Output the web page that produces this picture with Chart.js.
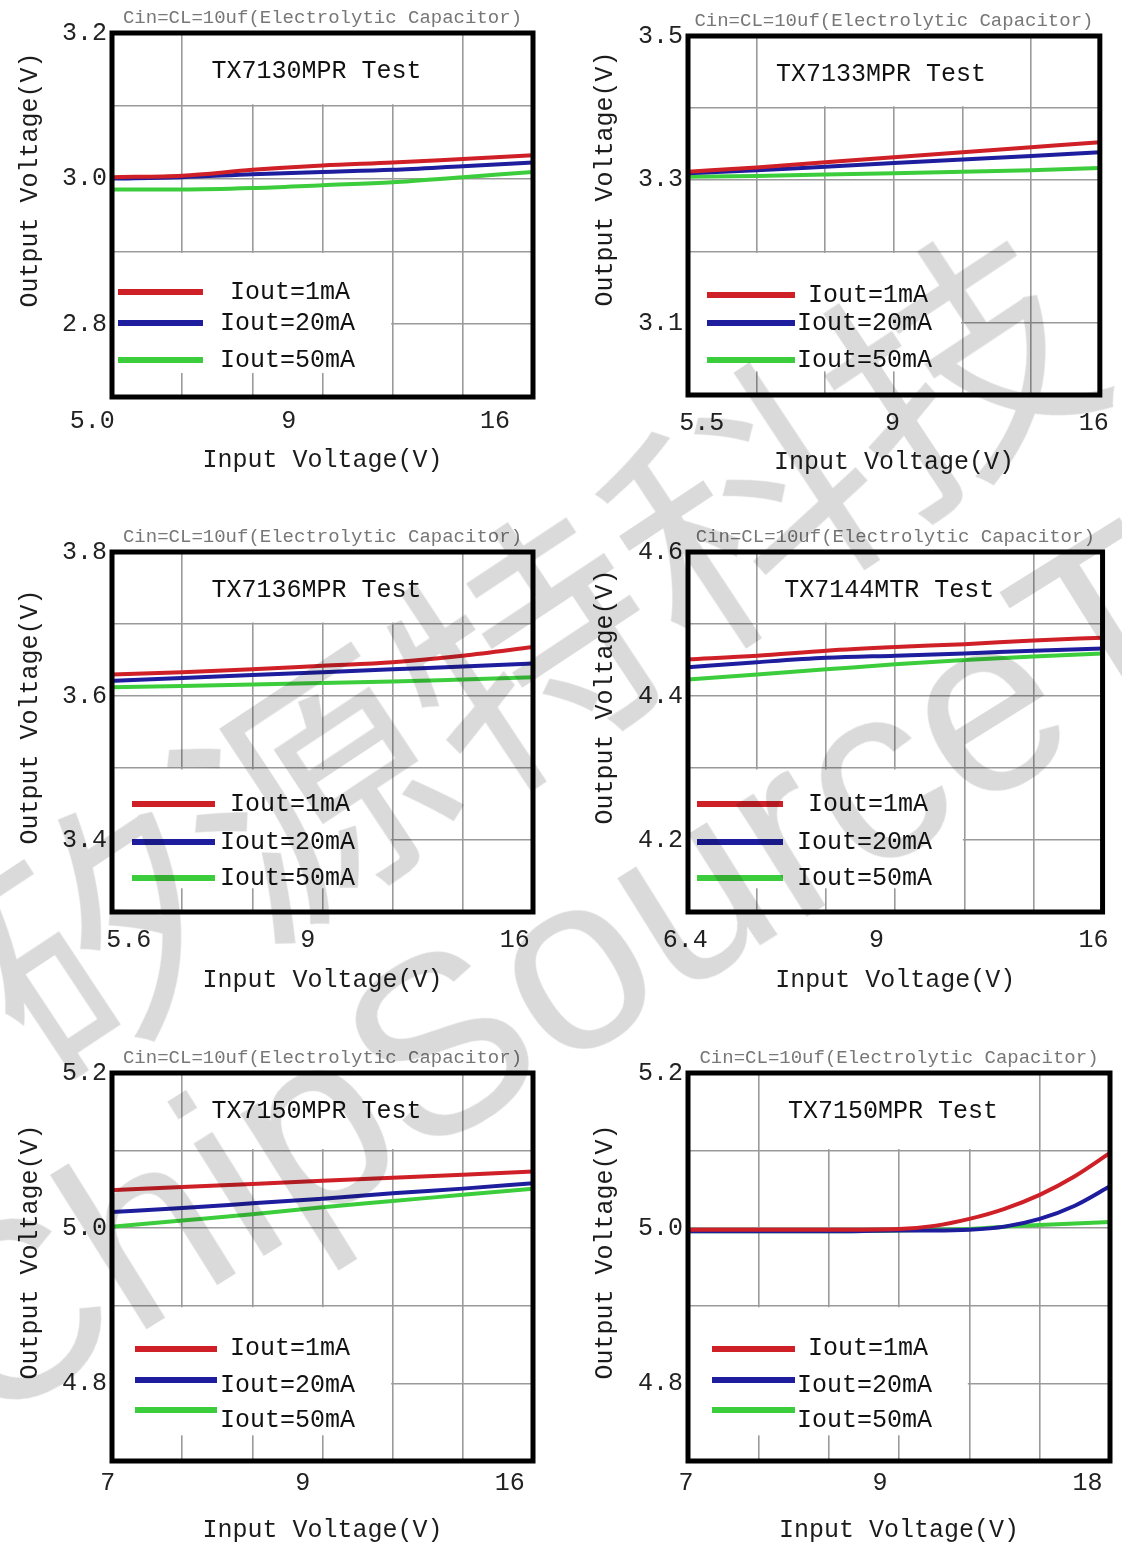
<!DOCTYPE html>
<html>
<head>
<meta charset="utf-8">
<title>TX71xx line regulation</title>
<script src="https://cdn.jsdelivr.net/npm/chart.js@4.4.0/dist/chart.umd.min.js"></script>
<style>
  html, body { margin: 0; padding: 0; background: #fff; }
  #page { position: relative; width: 1122px; height: 1546px; overflow: hidden; background: #fff; }
  .cell { position: absolute; }
  .cell canvas { display: block; }
  .wm { position: absolute; white-space: nowrap; line-height: 1; color: #dadada;
        mix-blend-mode: multiply; pointer-events: none; transform-origin: center center; }
</style>
</head>
<body>
<div id="page">
  <div class="cell" style="left:0;top:0"><canvas id="c1" width="561" height="490"></canvas></div>
  <div class="cell" style="left:561px;top:0"><canvas id="c2" width="561" height="490"></canvas></div>
  <div class="cell" style="left:0;top:510px"><canvas id="c3" width="561" height="510"></canvas></div>
  <div class="cell" style="left:561px;top:510px"><canvas id="c4" width="561" height="510"></canvas></div>
  <div class="cell" style="left:0;top:1030px"><canvas id="c5" width="561" height="516"></canvas></div>
  <div class="cell" style="left:561px;top:1030px"><canvas id="c6" width="561" height="516"></canvas></div>

  <div class="wm" style="font-family:'Noto Sans CJK SC';font-size:258px;left:520px;top:640px;transform:translate(-50%,-50%) rotate(-33.5deg)">矽源特科技</div>
  <div class="wm" style="font-family:'Liberation Sans';font-size:250px;left:652px;top:912px;transform:translate(-50%,-50%) rotate(-32deg)">ChipSourceTek</div>
</div>

<script>
// x positions are grid columns across the frame (the sheet's axis is not to scale)
const xPos = [0, 1, 2, 3, 4, 5, 6];
const xPosCurve = [0, 1, 2, 3, 3.5, 4, 4.5, 5, 5.5, 6];

const seriesLabels = ['Iout=1mA', 'Iout=20mA', 'Iout=50mA'];
const seriesColors = ['#cf1f27', '#1d1d9e', '#3ccd3c'];

// TX7130MPR
const tx7130_1mA  = [3.002, 3.004, 3.012, 3.018, 3.022, 3.027, 3.032];
const tx7130_20mA = [3.000, 3.002, 3.006, 3.009, 3.012, 3.017, 3.022];
const tx7130_50mA = [2.985, 2.985, 2.987, 2.991, 2.995, 3.002, 3.009];

// TX7133MPR
const tx7133_1mA  = [3.311, 3.317, 3.324, 3.331, 3.338, 3.345, 3.352];
const tx7133_20mA = [3.309, 3.313, 3.318, 3.323, 3.328, 3.333, 3.338];
const tx7133_50mA = [3.304, 3.305, 3.307, 3.309, 3.311, 3.313, 3.316];

// TX7136MPR
const tx7136_1mA  = [3.630, 3.633, 3.637, 3.642, 3.647, 3.656, 3.668];
const tx7136_20mA = [3.621, 3.625, 3.629, 3.633, 3.637, 3.641, 3.645];
const tx7136_50mA = [3.612, 3.614, 3.616, 3.618, 3.620, 3.623, 3.626];

// TX7144MTR
const tx7144_1mA  = [4.451, 4.456, 4.463, 4.468, 4.472, 4.477, 4.481];
const tx7144_20mA = [4.440, 4.447, 4.453, 4.456, 4.459, 4.463, 4.466];
const tx7144_50mA = [4.423, 4.430, 4.437, 4.444, 4.450, 4.455, 4.459];

// TX7150MPR (to 16V)
const tx7150_1mA  = [5.049, 5.053, 5.057, 5.061, 5.065, 5.069, 5.073];
const tx7150_20mA = [5.021, 5.026, 5.032, 5.038, 5.045, 5.051, 5.058];
const tx7150_50mA = [5.002, 5.010, 5.018, 5.027, 5.035, 5.043, 5.051];

// TX7150MPR (to 18V)
const tx7150b_1mA  = [4.998, 4.998, 4.998, 4.999, 5.003, 5.012, 5.025, 5.043, 5.067, 5.097];
const tx7150b_20mA = [4.996, 4.996, 4.996, 4.997, 4.997, 4.998, 5.002, 5.012, 5.029, 5.054];
const tx7150b_50mA = [4.996, 4.996, 4.996, 4.997, 4.998, 4.999, 5.002, 5.004, 5.006, 5.008];

// tick labels (position in grid columns, text)
const xTicks1 = [-0.28, 2.52, 5.46], xLabels1 = ['5.0', '9', '16'];
const xTicks2 = [0.2, 2.98, 5.91],   xLabels2 = ['5.5', '9', '16'];
const xTicks3 = [0.24, 2.79, 5.74],  xLabels3 = ['5.6', '9', '16'];
const xTicks4 = [-0.04, 2.73, 5.87], xLabels4 = ['6.4', '9', '16'];
const xTicks5 = [-0.06, 2.72, 5.67], xLabels5 = ['7', '9', '16'];
const xTicks6 = [-0.03, 2.73, 5.68], xLabels6 = ['7', '9', '18'];

const noteText = 'Cin=CL=10uf(Electrolytic Capacitor)';
const mono = "'Liberation Mono', 'DejaVu Sans Mono', monospace";
const gridColor = '#9a9a9a';

const panels = [
  { id: 'c1', title: 'TX7130MPR Test', yMax: 3.2, xs: xPos, series: [tx7130_1mA, tx7130_20mA, tx7130_50mA],
    xTicks: xTicks1, xLabels: xLabels1,
    padTop: 33, padRight: 28, yAxisW: 112, xAxisH: 93, xTickPad: 9, xTitlePad: 15, yTitle: [30, 180], titleDx: -6,
    leg: { line: [6, 91], lineY: [259, 290, 327], textX: [118, 108, 108], textY: [259, 290, 327] } },
  { id: 'c2', title: 'TX7133MPR Test', yMax: 3.5, xs: xPos, series: [tx7133_1mA, tx7133_20mA, tx7133_50mA],
    xTicks: xTicks2, xLabels: xLabels2,
    padTop: 36, padRight: 12, yAxisW: 127, xAxisH: 95, xTickPad: 13, xTitlePad: 13, yTitle: [44, 179], titleDx: -13,
    leg: { line: [19, 107], lineY: [259, 287, 324], textX: [120, 109, 109], textY: [259, 287, 324] } },
  { id: 'c3', title: 'TX7136MPR Test', yMax: 3.8, xs: xPos, series: [tx7136_1mA, tx7136_20mA, tx7136_50mA],
    xTicks: xTicks3, xLabels: xLabels3,
    padTop: 42, padRight: 28, yAxisW: 112, xAxisH: 108, xTickPad: 13, xTitlePad: 25, yTitle: [30, 207], titleDx: -6,
    leg: { line: [20, 103], lineY: [252, 290, 326], textX: [118, 108, 108], textY: [252, 290, 326] } },
  { id: 'c4', title: 'TX7144MTR Test', yMax: 4.6, xs: xPos, series: [tx7144_1mA, tx7144_20mA, tx7144_50mA],
    xTicks: xTicks4, xLabels: xLabels4,
    padTop: 42, padRight: 12, yAxisW: 127, xAxisH: 108, xTickPad: 13, xTitlePad: 25, yTitle: [44, 187], titleDx: -6,
    leg: { line: [9, 95], lineY: [252, 290, 326], textX: [120, 109, 109], textY: [252, 290, 326] } },
  { id: 'c5', title: 'TX7150MPR Test', yMax: 5.2, xs: xPos, series: [tx7150_1mA, tx7150_20mA, tx7150_50mA],
    xTicks: xTicks5, xLabels: xLabels5,
    padTop: 43, padRight: 28, yAxisW: 112, xAxisH: 85, xTickPad: 7, xTitlePad: 1, yTitle: [30, 222], titleDx: -6,
    leg: { line: [23, 105], lineY: [276, 307, 337], textX: [118, 108, 108], textY: [275, 312, 347] } },
  { id: 'c6', title: 'TX7150MPR Test', yMax: 5.2, xs: xPosCurve, series: [tx7150b_1mA, tx7150b_20mA, tx7150b_50mA],
    xTicks: xTicks6, xLabels: xLabels6,
    padTop: 43, padRight: 12, yAxisW: 127, xAxisH: 85, xTickPad: 7, xTitlePad: 1, yTitle: [44, 222], titleDx: -6,
    leg: { line: [24, 107], lineY: [276, 307, 337], textX: [120, 109, 109], textY: [275, 312, 347] } }
];

// white boxes behind the caption and the legend, frame, captions, legend
const decor = {
  id: 'decor',
  beforeDatasetsDraw(chart, args, p) {
    const { ctx, chartArea: a } = chart;
    const u = (a.right - a.left) / 6, h = a.bottom - a.top;
    ctx.save();
    ctx.fillStyle = '#fff';
    ctx.fillRect(a.left + 1.06 * u, a.top, 3.88 * u, 0.2 * h - 1.5);
    ctx.fillRect(a.left, a.top + 0.6 * h + 1.5, 4 * u - 1.5, 0.33 * h);
    ctx.restore();
  },
  afterDraw(chart, args, p) {
    const { ctx, chartArea: a } = chart;
    const cx = (a.left + a.right) / 2;
    ctx.save();

    ctx.lineWidth = 5;
    ctx.strokeStyle = '#000';
    ctx.strokeRect(a.left, a.top, a.right - a.left, a.bottom - a.top);

    ctx.textAlign = 'center';
    ctx.textBaseline = 'middle';
    ctx.fillStyle = '#777';
    ctx.font = '19px ' + mono;
    ctx.fillText(noteText, cx, a.top - 15);

    ctx.fillStyle = '#111';
    ctx.font = '25px ' + mono;
    ctx.fillText(p.title, cx + p.titleDx, a.top + 38);

    // legend
    chart.data.datasets.forEach((ds, i) => {
      ctx.beginPath();
      ctx.lineWidth = 6;
      ctx.strokeStyle = ds.borderColor;
      ctx.moveTo(a.left + p.leg.line[0], a.top + p.leg.lineY[i]);
      ctx.lineTo(a.left + p.leg.line[1], a.top + p.leg.lineY[i]);
      ctx.stroke();
      ctx.textAlign = 'left';
      ctx.fillStyle = '#111';
      ctx.fillText(ds.label, a.left + p.leg.textX[i], a.top + p.leg.textY[i]);
    });

    // y axis title
    ctx.translate(p.yTitle[0], p.yTitle[1]);
    ctx.rotate(-Math.PI / 2);
    ctx.textAlign = 'center';
    ctx.fillStyle = '#1c1c1c';
    ctx.fillText('Output Voltage(V)', 0, 0);
    ctx.restore();
  }
};

function makeChart(p) {
  const yMin = Math.round((p.yMax - 0.5) * 10) / 10;
  const datasets = p.series.map((vals, i) => ({
    label: seriesLabels[i],
    data: vals.map((v, k) => ({ x: p.xs[k], y: v })),
    borderColor: seriesColors[i],
    borderWidth: 4,
    pointRadius: 0,
    cubicInterpolationMode: 'monotone',
    fill: false
  }));

  return new Chart(document.getElementById(p.id).getContext('2d'), {
    type: 'line',
    data: { datasets },
    plugins: [decor],
    options: {
      responsive: false,
      animation: false,
      events: [],
      layout: { padding: { top: p.padTop, right: p.padRight, left: 0, bottom: 0 } },
      scales: {
        x: {
          type: 'linear', min: 0, max: 6,
          ticks: { display: false, stepSize: 1 },
          grid: { color: gridColor, lineWidth: 1.6, drawTicks: false },
          border: { display: false },
          afterFit: s => { s.height = 0; }
        },
        xl: {
          type: 'linear', position: 'bottom', min: 0, max: 6,
          grid: { display: false, drawTicks: false },
          border: { display: false },
          afterBuildTicks: s => { s.ticks = p.xTicks.map(v => ({ value: v })); },
          ticks: {
            autoSkip: false, maxRotation: 0, padding: p.xTickPad, color: '#222',
            font: { family: mono, size: 25 },
            callback: (v, i) => p.xLabels[i]
          },
          title: {
            display: true, text: 'Input Voltage(V)', color: '#1c1c1c',
            font: { family: mono, size: 25 },
            padding: { top: 0, bottom: p.xTitlePad }
          },
          afterFit: s => { s.height = p.xAxisH; }
        },
        y: {
          type: 'linear', min: yMin, max: p.yMax,
          afterBuildTicks: s => {
            s.ticks = [0, 1, 2, 3, 4, 5].map(k => ({ value: Math.round((p.yMax - k * 0.1) * 10) / 10 }));
          },
          ticks: {
            padding: 5, color: '#222',
            font: { family: mono, size: 25 },
            callback: (v, i) => (i % 2 === 0 && i < 5) ? v.toFixed(1) : ''
          },
          grid: { color: gridColor, lineWidth: 1.6, drawTicks: false },
          border: { display: false },
          afterFit: s => { s.width = p.yAxisW; }
        }
      },
      plugins: {
        legend: { display: false },
        tooltip: { enabled: false },
        title: { display: false },
        decor: p
      }
    }
  });
}

panels.forEach(makeChart);
</script>
</body>
</html>
